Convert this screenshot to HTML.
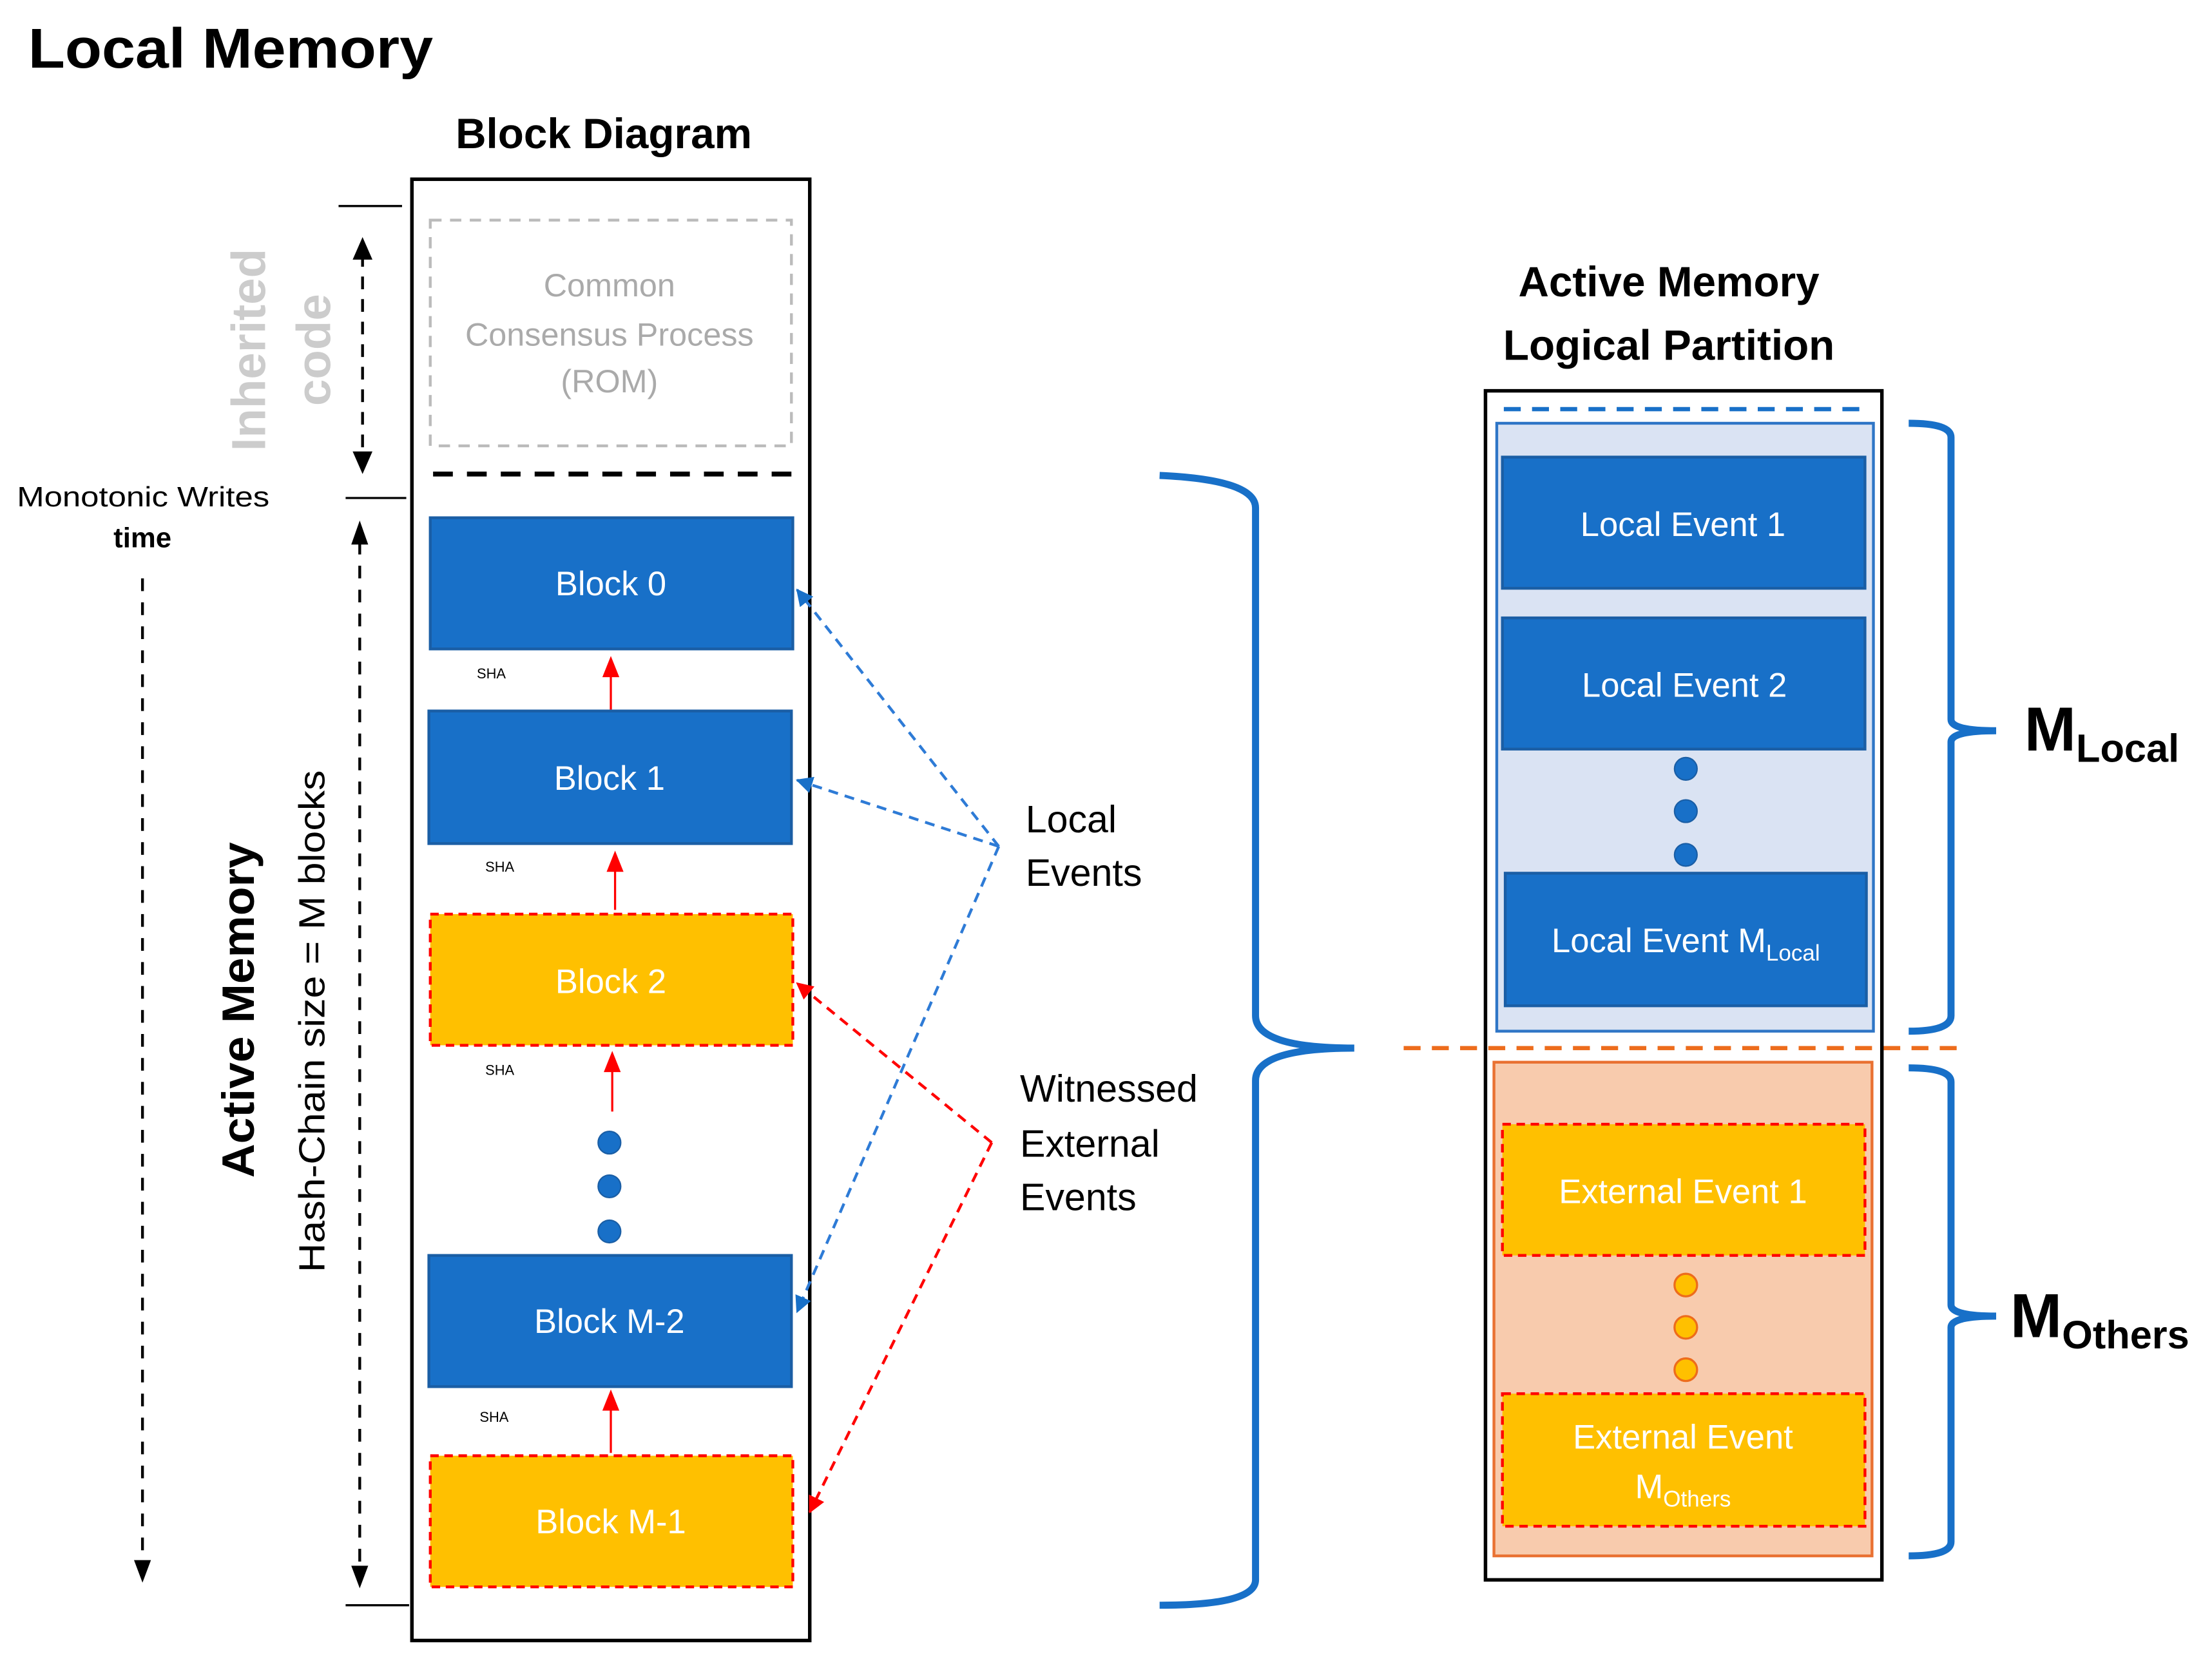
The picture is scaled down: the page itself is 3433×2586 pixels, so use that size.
<!DOCTYPE html>
<html><head><meta charset="utf-8"><style>html,body{margin:0;padding:0;background:#fff}svg{display:block}</style></head>
<body>
<svg width="3433" height="2586" viewBox="0 0 1568 1181" xmlns="http://www.w3.org/2000/svg" font-family="Liberation Sans, sans-serif">
<defs>
<marker id="ar" markerWidth="12" markerHeight="12" refX="11" refY="6" orient="auto" markerUnits="userSpaceOnUse"><path d="M0,0 L12,6 L0,12 z" fill="#f00"/></marker>
<marker id="ab" markerWidth="12" markerHeight="12" refX="11" refY="6" orient="auto" markerUnits="userSpaceOnUse"><path d="M0,0 L12,6 L0,12 z" fill="#1870c8"/></marker>
</defs>
<text x="20" y="48" font-size="40" font-weight="bold" textLength="287" lengthAdjust="spacingAndGlyphs">Local Memory</text>
<text x="428" y="105" font-size="30" font-weight="bold" text-anchor="middle">Block Diagram</text>
<rect x="292" y="127" width="282" height="1036" fill="none" stroke="#000" stroke-width="2.5"/>
<rect x="305" y="156" width="256" height="160" fill="none" stroke="#bbb" stroke-width="2" stroke-dasharray="8,6"/>
<g font-size="23" fill="#aaa" text-anchor="middle"><text x="432" y="210">Common</text><text x="432" y="245">Consensus Process</text><text x="432" y="278">(ROM)</text></g>
<line x1="307" y1="336" x2="561" y2="336" stroke="#000" stroke-width="3.5" stroke-dasharray="14,10"/>
<g stroke="#000" stroke-width="1.5"><line x1="240" y1="146" x2="285" y2="146"/><line x1="245" y1="353" x2="288" y2="353"/><line x1="245" y1="1138" x2="290" y2="1138"/></g>
<g font-size="34" font-weight="bold" fill="#ccc" text-anchor="middle"><text transform="translate(188,248) rotate(-90)">Inherited</text><text transform="translate(234,248) rotate(-90)">code</text></g>
<line x1="257" y1="180" x2="257" y2="324" stroke="#000" stroke-width="2" stroke-dasharray="9,7"/>
<path d="M250,184 L257,168 L264,184 z M250,320 L257,336 L264,320 z" fill="#000"/>
<text x="12" y="359" font-size="20" textLength="179" lengthAdjust="spacingAndGlyphs">Monotonic Writes</text>
<text x="101" y="388" font-size="20" font-weight="bold" text-anchor="middle">time</text>
<line x1="101" y1="410" x2="101" y2="1108" stroke="#000" stroke-width="2" stroke-dasharray="9,8"/>
<path d="M95,1106 L101,1122 L107,1106 z" fill="#000"/>
<line x1="255" y1="384" x2="255" y2="1112" stroke="#000" stroke-width="2" stroke-dasharray="9,8"/>
<path d="M249,386 L255,369 L261,386 z M249,1110 L255,1126 L261,1110 z" fill="#000"/>
<text transform="translate(180,716) rotate(-90)" font-size="32" font-weight="bold" text-anchor="middle" textLength="238" lengthAdjust="spacingAndGlyphs">Active Memory</text>
<text transform="translate(230,724) rotate(-90)" font-size="26" text-anchor="middle" textLength="356" lengthAdjust="spacingAndGlyphs">Hash-Chain size = M blocks</text>
<g stroke="#1a5ea5" stroke-width="2" fill="#1870c8">
<rect x="305" y="367" width="257" height="93"/><rect x="304" y="504" width="257" height="94"/><rect x="304" y="890" width="257" height="93"/></g>
<g stroke="#f00" stroke-width="2" stroke-dasharray="6,4" fill="#ffc000">
<rect x="305" y="648" width="257" height="93"/><rect x="305" y="1032" width="257" height="93"/></g>
<g fill="#fff" font-size="24" text-anchor="middle">
<text x="433" y="422">Block 0</text><text x="432" y="560">Block 1</text><text x="433" y="704">Block 2</text><text x="432" y="945">Block M-2</text><text x="433" y="1087">Block M-1</text></g>
<g font-size="10" fill="#000"><text x="338" y="481">SHA</text><text x="344" y="618">SHA</text><text x="344" y="762">SHA</text><text x="340" y="1008">SHA</text></g>
<g stroke="#f00" stroke-width="1.5"><line x1="433" y1="503" x2="433" y2="478"/><line x1="436" y1="645" x2="436" y2="616"/><line x1="434" y1="788" x2="434" y2="758"/><line x1="433" y1="1030" x2="433" y2="998"/></g>
<g fill="#f00"><path d="M427,480 L433,465 L439,480z"/><path d="M430,618 L436,603 L442,618z"/><path d="M428,760 L434,745 L440,760z"/><path d="M427,1000 L433,985 L439,1000z"/></g>
<g fill="#1870c8" stroke="#1a5ea5"><circle cx="432" cy="810" r="8"/><circle cx="432" cy="841" r="8"/><circle cx="432" cy="873" r="8"/></g>
<g stroke="#2e7bd6" stroke-width="2" stroke-dasharray="7,5" fill="none">
<line x1="708" y1="600" x2="565" y2="418" marker-end="url(#ab)"/><line x1="708" y1="600" x2="565" y2="553" marker-end="url(#ab)"/><line x1="708" y1="600" x2="565" y2="930" marker-end="url(#ab)"/></g>
<g stroke="#f00" stroke-width="2" stroke-dasharray="7,5" fill="none">
<line x1="703" y1="810" x2="565" y2="697" marker-end="url(#ar)"/><line x1="703" y1="810" x2="574" y2="1072" marker-end="url(#ar)"/></g>
<g font-size="27"><text x="727" y="590">Local</text><text x="727" y="628">Events</text><text x="723" y="781">Witnessed</text><text x="723" y="820">External</text><text x="723" y="858">Events</text></g>
<path d="M822,337 Q890,340 890,360 L890,720 Q890,743 960,743 Q890,743 890,766 L890,1120 Q890,1138 822,1138" fill="none" stroke="#1870c8" stroke-width="5"/>
<line x1="995" y1="743" x2="1395" y2="743" stroke="#ed6c1c" stroke-width="3" stroke-dasharray="12,8"/>
<g font-size="30" font-weight="bold" text-anchor="middle"><text x="1183" y="210">Active Memory</text><text x="1183" y="255">Logical Partition</text></g>
<rect x="1053" y="277" width="281" height="843" fill="none" stroke="#000" stroke-width="2.5"/>
<line x1="1066" y1="290" x2="1322" y2="290" stroke="#1870c8" stroke-width="3" stroke-dasharray="12,8"/>
<rect x="1061" y="300" width="267" height="431" fill="#dae3f3" stroke="#2e75c6" stroke-width="2"/>
<rect x="1059" y="753" width="268" height="350" fill="#f8cbad" stroke="#e97132" stroke-width="2"/>
<g stroke="#1a5ea5" stroke-width="2" fill="#1870c8"><rect x="1065" y="324" width="257" height="93"/><rect x="1065" y="438" width="257" height="93"/><rect x="1067" y="619" width="256" height="94"/></g>
<g stroke="#f00" stroke-width="2" stroke-dasharray="6,4" fill="#ffc000"><rect x="1065" y="797" width="257" height="93"/><rect x="1065" y="988" width="257" height="94"/></g>
<g fill="#fff" font-size="24" text-anchor="middle"><text x="1193" y="380">Local Event 1</text><text x="1194" y="494">Local Event 2</text>
<text x="1195" y="675">Local Event M<tspan font-size="16" dy="6">Local</tspan></text>
<text x="1193" y="853">External Event 1</text><text x="1193" y="1027">External Event</text><text x="1193" y="1062">M<tspan font-size="16" dy="6">Others</tspan></text></g>
<g fill="#1870c8" stroke="#1a5ea5"><circle cx="1195" cy="545" r="8"/><circle cx="1195" cy="575" r="8"/><circle cx="1195" cy="606" r="8"/></g>
<g fill="#ffc000" stroke="#ed6c1c" stroke-width="1.5"><circle cx="1195" cy="911" r="8"/><circle cx="1195" cy="941" r="8"/><circle cx="1195" cy="971" r="8"/></g>
<g fill="none" stroke="#1870c8" stroke-width="5">
<path d="M1353,300 Q1383,300 1383,310 L1383,510 Q1383,518 1415,518 Q1383,518 1383,526 L1383,720 Q1383,731 1353,731"/>
<path d="M1353,757 Q1383,757 1383,767 L1383,925 Q1383,933 1415,933 Q1383,933 1383,941 L1383,1093 Q1383,1103 1353,1103"/></g>
<text x="1435" y="532" font-size="44" font-weight="bold">M<tspan font-size="28" dy="8">Local</tspan></text>
<text x="1425" y="948" font-size="44" font-weight="bold">M<tspan font-size="28" dy="8">Others</tspan></text>
</svg>
</body></html>
